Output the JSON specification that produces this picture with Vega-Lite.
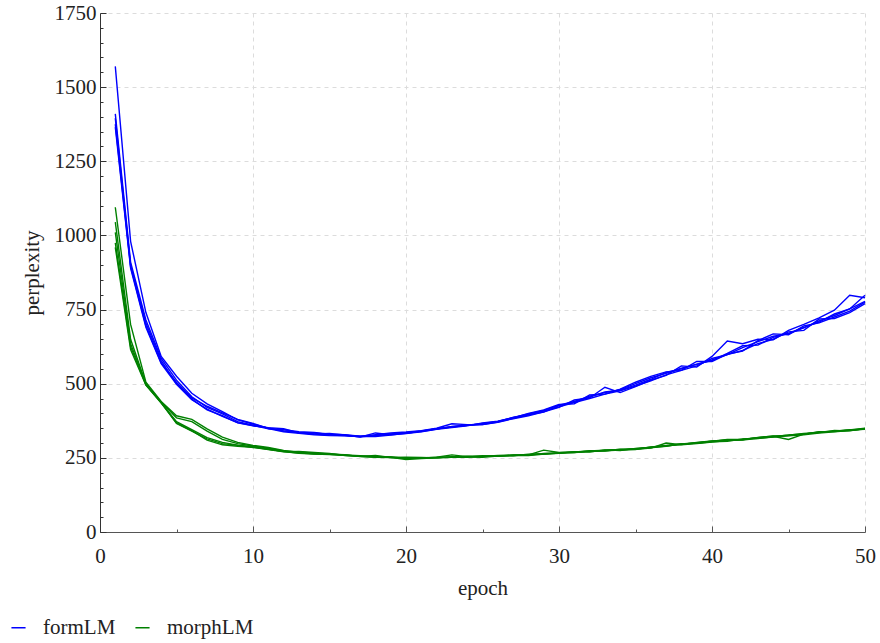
{
"$schema": "https://vega.github.io/schema/vega-lite/v6.json",
"width": 765, "height": 519,
"autosize": {"type": "none"},
"padding": {"left": 100, "top": 13, "right": 15, "bottom": 111},
"config": {"view": {"stroke": null}, "font": "Liberation Serif",
  "axis": {"labelFont": "Liberation Serif", "titleFont": "Liberation Serif"},
  "legend": {"labelFont": "Liberation Serif"}},
"datasets": {"runs": [
{"m":"formLM","r":"A","e":1,"p":1570},{"m":"formLM","r":"A","e":2,"p":980},{"m":"formLM","r":"A","e":3,"p":740},{"m":"formLM","r":"A","e":4,"p":592},{"m":"formLM","r":"A","e":5,"p":525},{"m":"formLM","r":"A","e":6,"p":468},{"m":"formLM","r":"A","e":7,"p":432},{"m":"formLM","r":"A","e":8,"p":406},{"m":"formLM","r":"A","e":9,"p":378},{"m":"formLM","r":"A","e":10,"p":364},
{"m":"formLM","r":"A","e":11,"p":350},{"m":"formLM","r":"A","e":12,"p":341},{"m":"formLM","r":"A","e":13,"p":335},{"m":"formLM","r":"A","e":14,"p":330},{"m":"formLM","r":"A","e":15,"p":327},{"m":"formLM","r":"A","e":16,"p":325},{"m":"formLM","r":"A","e":17,"p":321},{"m":"formLM","r":"A","e":18,"p":325},{"m":"formLM","r":"A","e":19,"p":330},{"m":"formLM","r":"A","e":20,"p":335},
{"m":"formLM","r":"A","e":21,"p":341},{"m":"formLM","r":"A","e":22,"p":348},{"m":"formLM","r":"A","e":23,"p":355},{"m":"formLM","r":"A","e":24,"p":360},{"m":"formLM","r":"A","e":25,"p":366},{"m":"formLM","r":"A","e":26,"p":373},{"m":"formLM","r":"A","e":27,"p":386},{"m":"formLM","r":"A","e":28,"p":398},{"m":"formLM","r":"A","e":29,"p":410},{"m":"formLM","r":"A","e":30,"p":428},
{"m":"formLM","r":"A","e":31,"p":440},{"m":"formLM","r":"A","e":32,"p":458},{"m":"formLM","r":"A","e":33,"p":470},{"m":"formLM","r":"A","e":34,"p":480},{"m":"formLM","r":"A","e":35,"p":500},{"m":"formLM","r":"A","e":36,"p":520},{"m":"formLM","r":"A","e":37,"p":535},{"m":"formLM","r":"A","e":38,"p":552},{"m":"formLM","r":"A","e":39,"p":565},{"m":"formLM","r":"A","e":40,"p":580},
{"m":"formLM","r":"A","e":41,"p":598},{"m":"formLM","r":"A","e":42,"p":622},{"m":"formLM","r":"A","e":43,"p":642},{"m":"formLM","r":"A","e":44,"p":660},{"m":"formLM","r":"A","e":45,"p":668},{"m":"formLM","r":"A","e":46,"p":688},{"m":"formLM","r":"A","e":47,"p":712},{"m":"formLM","r":"A","e":48,"p":730},{"m":"formLM","r":"A","e":49,"p":752},{"m":"formLM","r":"A","e":50,"p":778},
{"m":"formLM","r":"B","e":1,"p":1410},{"m":"formLM","r":"B","e":2,"p":910},{"m":"formLM","r":"B","e":3,"p":715},{"m":"formLM","r":"B","e":4,"p":585},{"m":"formLM","r":"B","e":5,"p":512},{"m":"formLM","r":"B","e":6,"p":456},{"m":"formLM","r":"B","e":7,"p":420},{"m":"formLM","r":"B","e":8,"p":398},{"m":"formLM","r":"B","e":9,"p":372},{"m":"formLM","r":"B","e":10,"p":360},
{"m":"formLM","r":"B","e":11,"p":348},{"m":"formLM","r":"B","e":12,"p":345},{"m":"formLM","r":"B","e":13,"p":338},{"m":"formLM","r":"B","e":14,"p":336},{"m":"formLM","r":"B","e":15,"p":330},{"m":"formLM","r":"B","e":16,"p":328},{"m":"formLM","r":"B","e":17,"p":323},{"m":"formLM","r":"B","e":18,"p":328},{"m":"formLM","r":"B","e":19,"p":334},{"m":"formLM","r":"B","e":20,"p":337},
{"m":"formLM","r":"B","e":21,"p":342},{"m":"formLM","r":"B","e":22,"p":350},{"m":"formLM","r":"B","e":23,"p":365},{"m":"formLM","r":"B","e":24,"p":362},{"m":"formLM","r":"B","e":25,"p":362},{"m":"formLM","r":"B","e":26,"p":370},{"m":"formLM","r":"B","e":27,"p":382},{"m":"formLM","r":"B","e":28,"p":392},{"m":"formLM","r":"B","e":29,"p":405},{"m":"formLM","r":"B","e":30,"p":420},
{"m":"formLM","r":"B","e":31,"p":445},{"m":"formLM","r":"B","e":32,"p":452},{"m":"formLM","r":"B","e":33,"p":488},{"m":"formLM","r":"B","e":34,"p":470},{"m":"formLM","r":"B","e":35,"p":490},{"m":"formLM","r":"B","e":36,"p":512},{"m":"formLM","r":"B","e":37,"p":528},{"m":"formLM","r":"B","e":38,"p":560},{"m":"formLM","r":"B","e":39,"p":556},{"m":"formLM","r":"B","e":40,"p":592},
{"m":"formLM","r":"B","e":41,"p":644},{"m":"formLM","r":"B","e":42,"p":635},{"m":"formLM","r":"B","e":43,"p":650},{"m":"formLM","r":"B","e":44,"p":648},{"m":"formLM","r":"B","e":45,"p":680},{"m":"formLM","r":"B","e":46,"p":700},{"m":"formLM","r":"B","e":47,"p":722},{"m":"formLM","r":"B","e":48,"p":748},{"m":"formLM","r":"B","e":49,"p":798},{"m":"formLM","r":"B","e":50,"p":790},
{"m":"formLM","r":"C","e":1,"p":1395},{"m":"formLM","r":"C","e":2,"p":900},{"m":"formLM","r":"C","e":3,"p":705},{"m":"formLM","r":"C","e":4,"p":578},{"m":"formLM","r":"C","e":5,"p":500},{"m":"formLM","r":"C","e":6,"p":448},{"m":"formLM","r":"C","e":7,"p":412},{"m":"formLM","r":"C","e":8,"p":392},{"m":"formLM","r":"C","e":9,"p":368},{"m":"formLM","r":"C","e":10,"p":358},
{"m":"formLM","r":"C","e":11,"p":352},{"m":"formLM","r":"C","e":12,"p":348},{"m":"formLM","r":"C","e":13,"p":334},{"m":"formLM","r":"C","e":14,"p":331},{"m":"formLM","r":"C","e":15,"p":332},{"m":"formLM","r":"C","e":16,"p":327},{"m":"formLM","r":"C","e":17,"p":320},{"m":"formLM","r":"C","e":18,"p":334},{"m":"formLM","r":"C","e":19,"p":328},{"m":"formLM","r":"C","e":20,"p":332},
{"m":"formLM","r":"C","e":21,"p":338},{"m":"formLM","r":"C","e":22,"p":346},{"m":"formLM","r":"C","e":23,"p":352},{"m":"formLM","r":"C","e":24,"p":358},{"m":"formLM","r":"C","e":25,"p":368},{"m":"formLM","r":"C","e":26,"p":374},{"m":"formLM","r":"C","e":27,"p":385},{"m":"formLM","r":"C","e":28,"p":400},{"m":"formLM","r":"C","e":29,"p":412},{"m":"formLM","r":"C","e":30,"p":430},
{"m":"formLM","r":"C","e":31,"p":432},{"m":"formLM","r":"C","e":32,"p":462},{"m":"formLM","r":"C","e":33,"p":465},{"m":"formLM","r":"C","e":34,"p":482},{"m":"formLM","r":"C","e":35,"p":505},{"m":"formLM","r":"C","e":36,"p":525},{"m":"formLM","r":"C","e":37,"p":540},{"m":"formLM","r":"C","e":38,"p":545},{"m":"formLM","r":"C","e":39,"p":575},{"m":"formLM","r":"C","e":40,"p":575},
{"m":"formLM","r":"C","e":41,"p":600},{"m":"formLM","r":"C","e":42,"p":610},{"m":"formLM","r":"C","e":43,"p":645},{"m":"formLM","r":"C","e":44,"p":668},{"m":"formLM","r":"C","e":45,"p":665},{"m":"formLM","r":"C","e":46,"p":695},{"m":"formLM","r":"C","e":47,"p":705},{"m":"formLM","r":"C","e":48,"p":725},{"m":"formLM","r":"C","e":49,"p":745},{"m":"formLM","r":"C","e":50,"p":775},
{"m":"formLM","r":"D","e":1,"p":1375},{"m":"formLM","r":"D","e":2,"p":895},{"m":"formLM","r":"D","e":3,"p":695},{"m":"formLM","r":"D","e":4,"p":570},{"m":"formLM","r":"D","e":5,"p":505},{"m":"formLM","r":"D","e":6,"p":452},{"m":"formLM","r":"D","e":7,"p":424},{"m":"formLM","r":"D","e":8,"p":402},{"m":"formLM","r":"D","e":9,"p":380},{"m":"formLM","r":"D","e":10,"p":366},
{"m":"formLM","r":"D","e":11,"p":349},{"m":"formLM","r":"D","e":12,"p":338},{"m":"formLM","r":"D","e":13,"p":333},{"m":"formLM","r":"D","e":14,"p":328},{"m":"formLM","r":"D","e":15,"p":325},{"m":"formLM","r":"D","e":16,"p":324},{"m":"formLM","r":"D","e":17,"p":322},{"m":"formLM","r":"D","e":18,"p":322},{"m":"formLM","r":"D","e":19,"p":327},{"m":"formLM","r":"D","e":20,"p":333},
{"m":"formLM","r":"D","e":21,"p":340},{"m":"formLM","r":"D","e":22,"p":348},{"m":"formLM","r":"D","e":23,"p":354},{"m":"formLM","r":"D","e":24,"p":360},{"m":"formLM","r":"D","e":25,"p":362},{"m":"formLM","r":"D","e":26,"p":371},{"m":"formLM","r":"D","e":27,"p":383},{"m":"formLM","r":"D","e":28,"p":395},{"m":"formLM","r":"D","e":29,"p":408},{"m":"formLM","r":"D","e":30,"p":422},
{"m":"formLM","r":"D","e":31,"p":436},{"m":"formLM","r":"D","e":32,"p":450},{"m":"formLM","r":"D","e":33,"p":465},{"m":"formLM","r":"D","e":34,"p":476},{"m":"formLM","r":"D","e":35,"p":492},{"m":"formLM","r":"D","e":36,"p":510},{"m":"formLM","r":"D","e":37,"p":530},{"m":"formLM","r":"D","e":38,"p":545},{"m":"formLM","r":"D","e":39,"p":560},{"m":"formLM","r":"D","e":40,"p":585},
{"m":"formLM","r":"D","e":41,"p":598},{"m":"formLM","r":"D","e":42,"p":612},{"m":"formLM","r":"D","e":43,"p":635},{"m":"formLM","r":"D","e":44,"p":650},{"m":"formLM","r":"D","e":45,"p":675},{"m":"formLM","r":"D","e":46,"p":680},{"m":"formLM","r":"D","e":47,"p":718},{"m":"formLM","r":"D","e":48,"p":720},{"m":"formLM","r":"D","e":49,"p":740},{"m":"formLM","r":"D","e":50,"p":770},
{"m":"formLM","r":"E","e":1,"p":1365},{"m":"formLM","r":"E","e":2,"p":890},{"m":"formLM","r":"E","e":3,"p":690},{"m":"formLM","r":"E","e":4,"p":568},{"m":"formLM","r":"E","e":5,"p":498},{"m":"formLM","r":"E","e":6,"p":446},{"m":"formLM","r":"E","e":7,"p":414},{"m":"formLM","r":"E","e":8,"p":390},{"m":"formLM","r":"E","e":9,"p":369},{"m":"formLM","r":"E","e":10,"p":359},
{"m":"formLM","r":"E","e":11,"p":351},{"m":"formLM","r":"E","e":12,"p":340},{"m":"formLM","r":"E","e":13,"p":336},{"m":"formLM","r":"E","e":14,"p":334},{"m":"formLM","r":"E","e":15,"p":329},{"m":"formLM","r":"E","e":16,"p":326},{"m":"formLM","r":"E","e":17,"p":323},{"m":"formLM","r":"E","e":18,"p":324},{"m":"formLM","r":"E","e":19,"p":331},{"m":"formLM","r":"E","e":20,"p":334},
{"m":"formLM","r":"E","e":21,"p":339},{"m":"formLM","r":"E","e":22,"p":347},{"m":"formLM","r":"E","e":23,"p":356},{"m":"formLM","r":"E","e":24,"p":360},{"m":"formLM","r":"E","e":25,"p":364},{"m":"formLM","r":"E","e":26,"p":372},{"m":"formLM","r":"E","e":27,"p":386},{"m":"formLM","r":"E","e":28,"p":395},{"m":"formLM","r":"E","e":29,"p":404},{"m":"formLM","r":"E","e":30,"p":426},
{"m":"formLM","r":"E","e":31,"p":437},{"m":"formLM","r":"E","e":32,"p":455},{"m":"formLM","r":"E","e":33,"p":472},{"m":"formLM","r":"E","e":34,"p":478},{"m":"formLM","r":"E","e":35,"p":495},{"m":"formLM","r":"E","e":36,"p":515},{"m":"formLM","r":"E","e":37,"p":538},{"m":"formLM","r":"E","e":38,"p":550},{"m":"formLM","r":"E","e":39,"p":566},{"m":"formLM","r":"E","e":40,"p":578},
{"m":"formLM","r":"E","e":41,"p":602},{"m":"formLM","r":"E","e":42,"p":628},{"m":"formLM","r":"E","e":43,"p":630},{"m":"formLM","r":"E","e":44,"p":656},{"m":"formLM","r":"E","e":45,"p":670},{"m":"formLM","r":"E","e":46,"p":690},{"m":"formLM","r":"E","e":47,"p":708},{"m":"formLM","r":"E","e":48,"p":735},{"m":"formLM","r":"E","e":49,"p":752},{"m":"formLM","r":"E","e":50,"p":798},
{"m":"morphLM","r":"A","e":1,"p":1095},{"m":"morphLM","r":"A","e":2,"p":700},{"m":"morphLM","r":"A","e":3,"p":505},{"m":"morphLM","r":"A","e":4,"p":440},{"m":"morphLM","r":"A","e":5,"p":392},{"m":"morphLM","r":"A","e":6,"p":380},{"m":"morphLM","r":"A","e":7,"p":348},{"m":"morphLM","r":"A","e":8,"p":320},{"m":"morphLM","r":"A","e":9,"p":302},{"m":"morphLM","r":"A","e":10,"p":292},
{"m":"morphLM","r":"A","e":11,"p":285},{"m":"morphLM","r":"A","e":12,"p":275},{"m":"morphLM","r":"A","e":13,"p":268},{"m":"morphLM","r":"A","e":14,"p":264},{"m":"morphLM","r":"A","e":15,"p":262},{"m":"morphLM","r":"A","e":16,"p":259},{"m":"morphLM","r":"A","e":17,"p":256},{"m":"morphLM","r":"A","e":18,"p":254},{"m":"morphLM","r":"A","e":19,"p":252},{"m":"morphLM","r":"A","e":20,"p":250},
{"m":"morphLM","r":"A","e":21,"p":249},{"m":"morphLM","r":"A","e":22,"p":251},{"m":"morphLM","r":"A","e":23,"p":252},{"m":"morphLM","r":"A","e":24,"p":255},{"m":"morphLM","r":"A","e":25,"p":254},{"m":"morphLM","r":"A","e":26,"p":257},{"m":"morphLM","r":"A","e":27,"p":259},{"m":"morphLM","r":"A","e":28,"p":260},{"m":"morphLM","r":"A","e":29,"p":276},{"m":"morphLM","r":"A","e":30,"p":268},
{"m":"morphLM","r":"A","e":31,"p":270},{"m":"morphLM","r":"A","e":32,"p":273},{"m":"morphLM","r":"A","e":33,"p":276},{"m":"morphLM","r":"A","e":34,"p":278},{"m":"morphLM","r":"A","e":35,"p":281},{"m":"morphLM","r":"A","e":36,"p":286},{"m":"morphLM","r":"A","e":37,"p":292},{"m":"morphLM","r":"A","e":38,"p":297},{"m":"morphLM","r":"A","e":39,"p":301},{"m":"morphLM","r":"A","e":40,"p":306},
{"m":"morphLM","r":"A","e":41,"p":310},{"m":"morphLM","r":"A","e":42,"p":312},{"m":"morphLM","r":"A","e":43,"p":318},{"m":"morphLM","r":"A","e":44,"p":322},{"m":"morphLM","r":"A","e":45,"p":326},{"m":"morphLM","r":"A","e":46,"p":332},{"m":"morphLM","r":"A","e":47,"p":336},{"m":"morphLM","r":"A","e":48,"p":340},{"m":"morphLM","r":"A","e":49,"p":344},{"m":"morphLM","r":"A","e":50,"p":350},
{"m":"morphLM","r":"B","e":1,"p":1045},{"m":"morphLM","r":"B","e":2,"p":650},{"m":"morphLM","r":"B","e":3,"p":500},{"m":"morphLM","r":"B","e":4,"p":438},{"m":"morphLM","r":"B","e":5,"p":385},{"m":"morphLM","r":"B","e":6,"p":372},{"m":"morphLM","r":"B","e":7,"p":340},{"m":"morphLM","r":"B","e":8,"p":312},{"m":"morphLM","r":"B","e":9,"p":298},{"m":"morphLM","r":"B","e":10,"p":290},
{"m":"morphLM","r":"B","e":11,"p":283},{"m":"morphLM","r":"B","e":12,"p":273},{"m":"morphLM","r":"B","e":13,"p":270},{"m":"morphLM","r":"B","e":14,"p":266},{"m":"morphLM","r":"B","e":15,"p":263},{"m":"morphLM","r":"B","e":16,"p":260},{"m":"morphLM","r":"B","e":17,"p":257},{"m":"morphLM","r":"B","e":18,"p":255},{"m":"morphLM","r":"B","e":19,"p":253},{"m":"morphLM","r":"B","e":20,"p":248},
{"m":"morphLM","r":"B","e":21,"p":250},{"m":"morphLM","r":"B","e":22,"p":252},{"m":"morphLM","r":"B","e":23,"p":260},{"m":"morphLM","r":"B","e":24,"p":254},{"m":"morphLM","r":"B","e":25,"p":256},{"m":"morphLM","r":"B","e":26,"p":257},{"m":"morphLM","r":"B","e":27,"p":258},{"m":"morphLM","r":"B","e":28,"p":261},{"m":"morphLM","r":"B","e":29,"p":262},{"m":"morphLM","r":"B","e":30,"p":266},
{"m":"morphLM","r":"B","e":31,"p":268},{"m":"morphLM","r":"B","e":32,"p":271},{"m":"morphLM","r":"B","e":33,"p":274},{"m":"morphLM","r":"B","e":34,"p":276},{"m":"morphLM","r":"B","e":35,"p":279},{"m":"morphLM","r":"B","e":36,"p":283},{"m":"morphLM","r":"B","e":37,"p":300},{"m":"morphLM","r":"B","e":38,"p":294},{"m":"morphLM","r":"B","e":39,"p":298},{"m":"morphLM","r":"B","e":40,"p":303},
{"m":"morphLM","r":"B","e":41,"p":308},{"m":"morphLM","r":"B","e":42,"p":310},{"m":"morphLM","r":"B","e":43,"p":316},{"m":"morphLM","r":"B","e":44,"p":320},{"m":"morphLM","r":"B","e":45,"p":324},{"m":"morphLM","r":"B","e":46,"p":328},{"m":"morphLM","r":"B","e":47,"p":334},{"m":"morphLM","r":"B","e":48,"p":338},{"m":"morphLM","r":"B","e":49,"p":342},{"m":"morphLM","r":"B","e":50,"p":347},
{"m":"morphLM","r":"C","e":1,"p":1010},{"m":"morphLM","r":"C","e":2,"p":635},{"m":"morphLM","r":"C","e":3,"p":498},{"m":"morphLM","r":"C","e":4,"p":436},{"m":"morphLM","r":"C","e":5,"p":372},{"m":"morphLM","r":"C","e":6,"p":345},{"m":"morphLM","r":"C","e":7,"p":318},{"m":"morphLM","r":"C","e":8,"p":302},{"m":"morphLM","r":"C","e":9,"p":293},{"m":"morphLM","r":"C","e":10,"p":288},
{"m":"morphLM","r":"C","e":11,"p":280},{"m":"morphLM","r":"C","e":12,"p":271},{"m":"morphLM","r":"C","e":13,"p":272},{"m":"morphLM","r":"C","e":14,"p":268},{"m":"morphLM","r":"C","e":15,"p":265},{"m":"morphLM","r":"C","e":16,"p":258},{"m":"morphLM","r":"C","e":17,"p":255},{"m":"morphLM","r":"C","e":18,"p":258},{"m":"morphLM","r":"C","e":19,"p":251},{"m":"morphLM","r":"C","e":20,"p":252},
{"m":"morphLM","r":"C","e":21,"p":251},{"m":"morphLM","r":"C","e":22,"p":250},{"m":"morphLM","r":"C","e":23,"p":252},{"m":"morphLM","r":"C","e":24,"p":256},{"m":"morphLM","r":"C","e":25,"p":255},{"m":"morphLM","r":"C","e":26,"p":258},{"m":"morphLM","r":"C","e":27,"p":257},{"m":"morphLM","r":"C","e":28,"p":262},{"m":"morphLM","r":"C","e":29,"p":264},{"m":"morphLM","r":"C","e":30,"p":267},
{"m":"morphLM","r":"C","e":31,"p":270},{"m":"morphLM","r":"C","e":32,"p":272},{"m":"morphLM","r":"C","e":33,"p":275},{"m":"morphLM","r":"C","e":34,"p":277},{"m":"morphLM","r":"C","e":35,"p":280},{"m":"morphLM","r":"C","e":36,"p":284},{"m":"morphLM","r":"C","e":37,"p":290},{"m":"morphLM","r":"C","e":38,"p":296},{"m":"morphLM","r":"C","e":39,"p":300},{"m":"morphLM","r":"C","e":40,"p":306},
{"m":"morphLM","r":"C","e":41,"p":312},{"m":"morphLM","r":"C","e":42,"p":313},{"m":"morphLM","r":"C","e":43,"p":318},{"m":"morphLM","r":"C","e":44,"p":324},{"m":"morphLM","r":"C","e":45,"p":325},{"m":"morphLM","r":"C","e":46,"p":330},{"m":"morphLM","r":"C","e":47,"p":338},{"m":"morphLM","r":"C","e":48,"p":339},{"m":"morphLM","r":"C","e":49,"p":343},{"m":"morphLM","r":"C","e":50,"p":348},
{"m":"morphLM","r":"D","e":1,"p":975},{"m":"morphLM","r":"D","e":2,"p":625},{"m":"morphLM","r":"D","e":3,"p":496},{"m":"morphLM","r":"D","e":4,"p":437},{"m":"morphLM","r":"D","e":5,"p":366},{"m":"morphLM","r":"D","e":6,"p":340},{"m":"morphLM","r":"D","e":7,"p":314},{"m":"morphLM","r":"D","e":8,"p":298},{"m":"morphLM","r":"D","e":9,"p":292},{"m":"morphLM","r":"D","e":10,"p":285},
{"m":"morphLM","r":"D","e":11,"p":278},{"m":"morphLM","r":"D","e":12,"p":270},{"m":"morphLM","r":"D","e":13,"p":266},{"m":"morphLM","r":"D","e":14,"p":264},{"m":"morphLM","r":"D","e":15,"p":262},{"m":"morphLM","r":"D","e":16,"p":261},{"m":"morphLM","r":"D","e":17,"p":254},{"m":"morphLM","r":"D","e":18,"p":252},{"m":"morphLM","r":"D","e":19,"p":251},{"m":"morphLM","r":"D","e":20,"p":249},
{"m":"morphLM","r":"D","e":21,"p":250},{"m":"morphLM","r":"D","e":22,"p":251},{"m":"morphLM","r":"D","e":23,"p":253},{"m":"morphLM","r":"D","e":24,"p":252},{"m":"morphLM","r":"D","e":25,"p":257},{"m":"morphLM","r":"D","e":26,"p":255},{"m":"morphLM","r":"D","e":27,"p":259},{"m":"morphLM","r":"D","e":28,"p":258},{"m":"morphLM","r":"D","e":29,"p":263},{"m":"morphLM","r":"D","e":30,"p":265},
{"m":"morphLM","r":"D","e":31,"p":271},{"m":"morphLM","r":"D","e":32,"p":270},{"m":"morphLM","r":"D","e":33,"p":277},{"m":"morphLM","r":"D","e":34,"p":275},{"m":"morphLM","r":"D","e":35,"p":282},{"m":"morphLM","r":"D","e":36,"p":285},{"m":"morphLM","r":"D","e":37,"p":289},{"m":"morphLM","r":"D","e":38,"p":298},{"m":"morphLM","r":"D","e":39,"p":299},{"m":"morphLM","r":"D","e":40,"p":304},
{"m":"morphLM","r":"D","e":41,"p":306},{"m":"morphLM","r":"D","e":42,"p":314},{"m":"morphLM","r":"D","e":43,"p":315},{"m":"morphLM","r":"D","e":44,"p":321},{"m":"morphLM","r":"D","e":45,"p":327},{"m":"morphLM","r":"D","e":46,"p":331},{"m":"morphLM","r":"D","e":47,"p":335},{"m":"morphLM","r":"D","e":48,"p":342},{"m":"morphLM","r":"D","e":49,"p":341},{"m":"morphLM","r":"D","e":50,"p":349},
{"m":"morphLM","r":"E","e":1,"p":960},{"m":"morphLM","r":"E","e":2,"p":615},{"m":"morphLM","r":"E","e":3,"p":495},{"m":"morphLM","r":"E","e":4,"p":435},{"m":"morphLM","r":"E","e":5,"p":368},{"m":"morphLM","r":"E","e":6,"p":342},{"m":"morphLM","r":"E","e":7,"p":310},{"m":"morphLM","r":"E","e":8,"p":294},{"m":"morphLM","r":"E","e":9,"p":289},{"m":"morphLM","r":"E","e":10,"p":286},
{"m":"morphLM","r":"E","e":11,"p":279},{"m":"morphLM","r":"E","e":12,"p":272},{"m":"morphLM","r":"E","e":13,"p":265},{"m":"morphLM","r":"E","e":14,"p":263},{"m":"morphLM","r":"E","e":15,"p":261},{"m":"morphLM","r":"E","e":16,"p":259},{"m":"morphLM","r":"E","e":17,"p":255},{"m":"morphLM","r":"E","e":18,"p":253},{"m":"morphLM","r":"E","e":19,"p":252},{"m":"morphLM","r":"E","e":20,"p":244},
{"m":"morphLM","r":"E","e":21,"p":248},{"m":"morphLM","r":"E","e":22,"p":250},{"m":"morphLM","r":"E","e":23,"p":254},{"m":"morphLM","r":"E","e":24,"p":253},{"m":"morphLM","r":"E","e":25,"p":252},{"m":"morphLM","r":"E","e":26,"p":256},{"m":"morphLM","r":"E","e":27,"p":260},{"m":"morphLM","r":"E","e":28,"p":259},{"m":"morphLM","r":"E","e":29,"p":265},{"m":"morphLM","r":"E","e":30,"p":266},
{"m":"morphLM","r":"E","e":31,"p":268},{"m":"morphLM","r":"E","e":32,"p":274},{"m":"morphLM","r":"E","e":33,"p":273},{"m":"morphLM","r":"E","e":34,"p":279},{"m":"morphLM","r":"E","e":35,"p":278},{"m":"morphLM","r":"E","e":36,"p":287},{"m":"morphLM","r":"E","e":37,"p":291},{"m":"morphLM","r":"E","e":38,"p":295},{"m":"morphLM","r":"E","e":39,"p":302},{"m":"morphLM","r":"E","e":40,"p":307},
{"m":"morphLM","r":"E","e":41,"p":309},{"m":"morphLM","r":"E","e":42,"p":311},{"m":"morphLM","r":"E","e":43,"p":319},{"m":"morphLM","r":"E","e":44,"p":323},{"m":"morphLM","r":"E","e":45,"p":312},{"m":"morphLM","r":"E","e":46,"p":330},{"m":"morphLM","r":"E","e":47,"p":337},{"m":"morphLM","r":"E","e":48,"p":340},{"m":"morphLM","r":"E","e":49,"p":345},{"m":"morphLM","r":"E","e":50,"p":346}
]},
"data": {"name": "runs"},
"mark": {"type": "line", "strokeWidth": 1.4},
"encoding": {
  "x": {"field": "e", "type": "quantitative", "scale": {"domain": [0, 50], "nice": false},
    "axis": {"title": "epoch", "values": [0,5,10,15,20,25,30,35,40,45,50],
      "labelExpr": "datum.value % 10 === 0 ? datum.label : ''",
      "labelFlush": false, "labelOverlap": false,
      "labelFontSize": 21, "labelColor": "#222", "labelPadding": 19,
      "titleFontSize": 21, "titleFontWeight": "normal", "titleColor": "#222", "titlePadding": 8,
      "domainColor": "#555", "tickColor": "#555",
      "tickSize": {"condition": {"test": "datum.value % 10 === 0", "value": -6}, "value": -3},
      "gridColor": "#dcdcdc", "gridDash": [4, 4],
      "gridOpacity": {"condition": {"test": "datum.value % 10 === 0", "value": 1}, "value": 0}}},
  "y": {"field": "p", "type": "quantitative", "scale": {"domain": [0, 1750], "nice": false},
    "axis": {"title": "perplexity", "values": [0,50,100,150,200,250,300,350,400,450,500,550,600,650,700,750,800,850,900,950,1000,1050,1100,1150,1200,1250,1300,1350,1400,1450,1500,1550,1600,1650,1700,1750],
      "labelExpr": "datum.value % 250 === 0 ? datum.label : ''",
      "format": "d", "labelOverlap": false, "labelFlush": false,
      "labelFontSize": 21, "labelColor": "#222", "labelPadding": 10,
      "titleFontSize": 21, "titleFontWeight": "normal", "titleColor": "#222", "titlePadding": 12,
      "domainColor": "#333", "tickColor": "#333",
      "tickSize": {"condition": {"test": "datum.value % 250 === 0", "value": -6}, "value": -3},
      "gridColor": "#dcdcdc", "gridDash": [4, 4],
      "gridOpacity": {"condition": {"test": "datum.value % 250 === 0", "value": 1}, "value": 0}}},
  "color": {"field": "m", "type": "nominal",
    "scale": {"domain": ["formLM", "morphLM"], "range": ["#0000ff", "#008000"]},
    "legend": {"title": null, "orient": "none", "direction": "horizontal", "legendX": -92, "legendY": 604,
      "symbolType": "stroke", "symbolSize": 200, "symbolStrokeWidth": 1.5,
      "labelFontSize": 21, "labelColor": "#222", "columnPadding": 16, "labelOffset": 14}},
  "detail": {"field": "r", "type": "nominal"}
}
}
